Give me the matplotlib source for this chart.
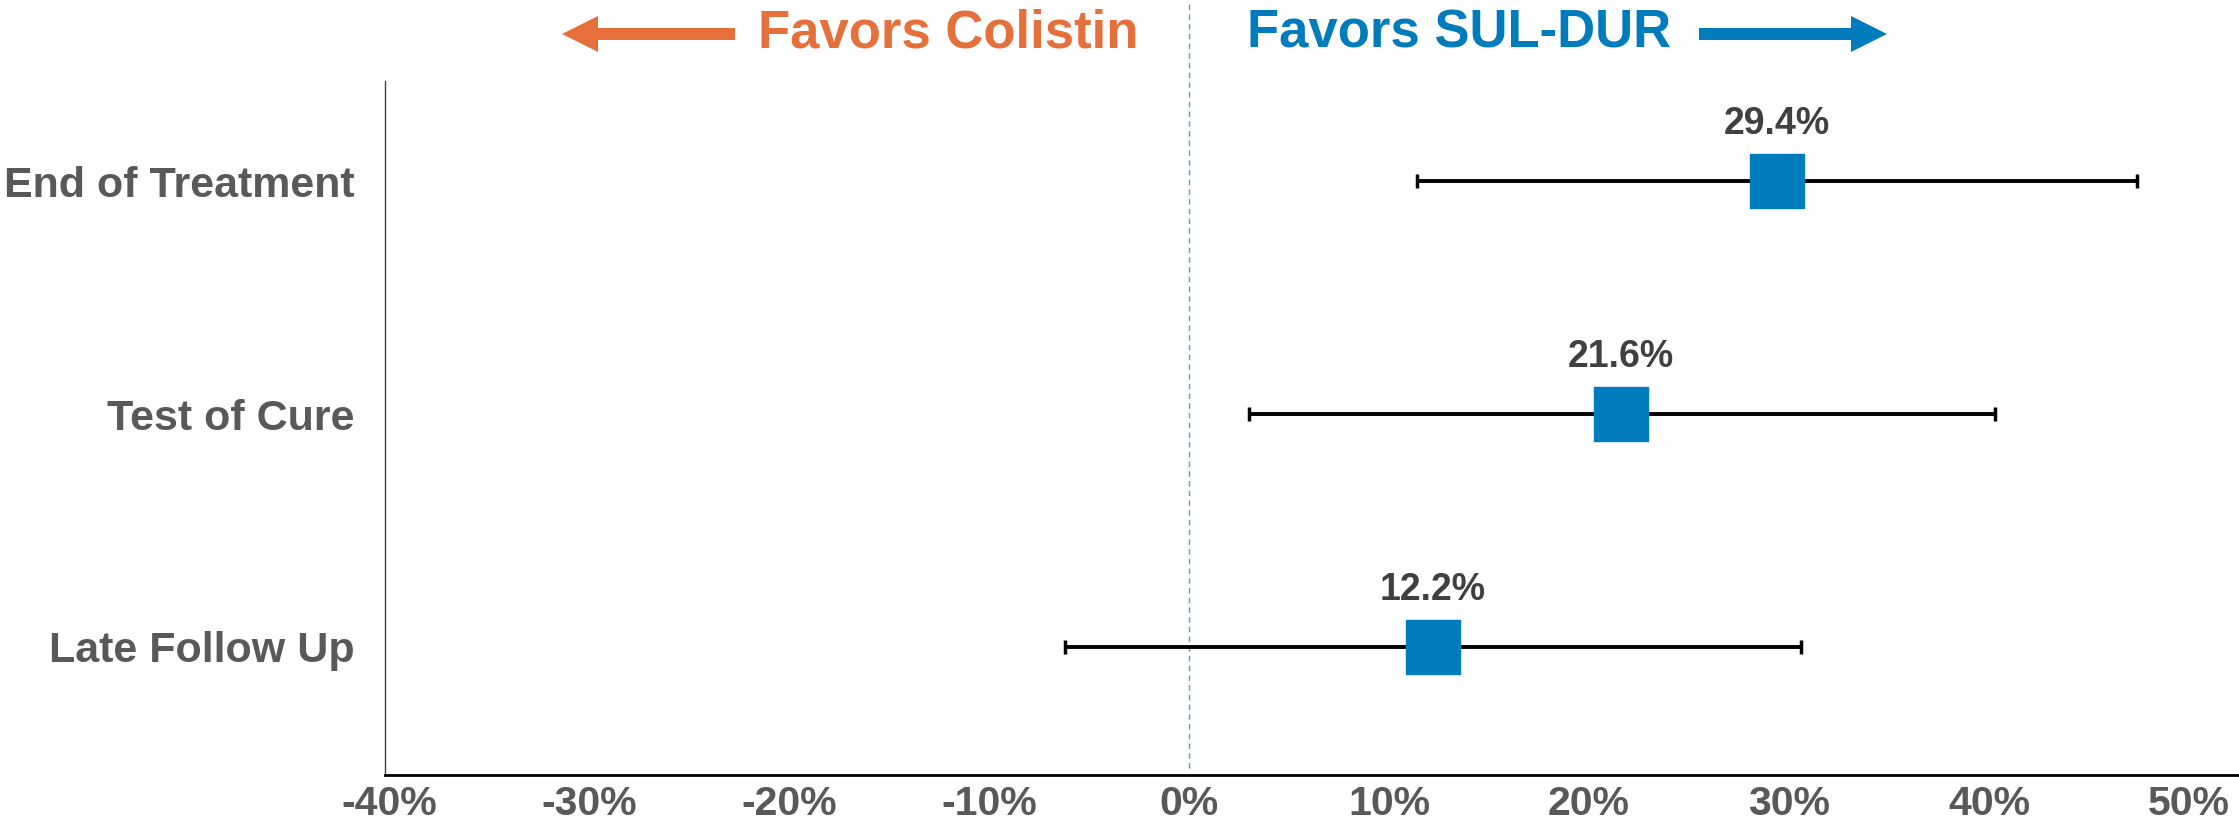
import matplotlib.pyplot as plt
from matplotlib.patches import FancyArrow

plt.rcParams['font.family'] = ['Liberation Sans', 'DejaVu Sans']
plt.rcParams['font.weight'] = 'bold'

# dados: diferenca e IC 95% por momento de avaliacao
endpoints = ['End of Treatment', 'Test of Cure', 'Late Follow Up']
diff = [29.4, 21.6, 12.2]
ci_low = [11.4, 3.0, -6.2]
ci_high = [47.4, 40.3, 30.6]
xticks = [-40, -30, -20, -10, 0, 10, 20, 30, 40, 50]

blue = '#007BBB'
orange = '#E5703C'
gray = '#595959'

W, H = 2239, 832
fig = plt.figure(figsize=(W / 100, H / 100), dpi=100)
ax = fig.add_axes([385 / W, 1 - 775 / H, 1 - 385 / W, (775 - 81) / H])

ypos = [3, 2, 1]
for y, d, lo, hi in zip(ypos, diff, ci_low, ci_high):
    ax.errorbar(d, y, xerr=[[d - lo], [hi - d]], fmt='none', ecolor='black',
                elinewidth=2.8, capsize=5, capthick=2.5, zorder=2)
    ax.plot(d, y, marker='s', markersize=39, color=blue, linestyle='none', zorder=3)
    ax.text(d, y + 0.245, f'{d:.1f}%', ha='center', va='center',
            fontsize=27, color='#404040', fontweight='bold')

# linha de referencia em zero
ax.axvline(0, ymin=0.01, ymax=1.117, color='#4BA3D4', linestyle=(0, (4, 3)),
           linewidth=1.0, clip_on=False, zorder=1)

ax.set_xlim(-40.2, 52.5)
ax.set_ylim(0.45, 3.43)
ax.set_xticks(xticks)
ax.set_xticklabels([f'{t}%' for t in xticks])
ax.set_yticks(ypos)
ax.set_yticklabels(endpoints)
ax.tick_params(axis='x', length=0, labelsize=29.5, labelcolor=gray, pad=7)
ax.tick_params(axis='y', length=0, labelsize=31, labelcolor=gray, pad=22)

for s in ['top', 'right']:
    ax.spines[s].set_visible(False)
ax.spines['left'].set_color('#404040')
ax.spines['left'].set_linewidth(1.0)
ax.spines['bottom'].set_color('black')
ax.spines['bottom'].set_linewidth(2.0)

# cabecalho com setas, em coordenadas de pixel
top = fig.add_axes([0, 0, 1, 1], zorder=5)
top.set_xlim(0, W)
top.set_ylim(H, 0)
top.axis('off')
top.text(1138, 33, 'Favors Colistin', ha='right', va='center',
         fontsize=38, color=orange, fontweight='bold')
top.text(1247, 33, 'Favors SUL-DUR', ha='left', va='center',
         fontsize=38, color=blue, fontweight='bold')
top.add_patch(FancyArrow(735, 34, -173, 0, width=12, head_width=36, head_length=36,
                         length_includes_head=True, color=orange, lw=0))
top.add_patch(FancyArrow(1699, 34, 188, 0, width=12, head_width=36, head_length=36,
                         length_includes_head=True, color=blue, lw=0))

fig.savefig('out.png', dpi=100)
